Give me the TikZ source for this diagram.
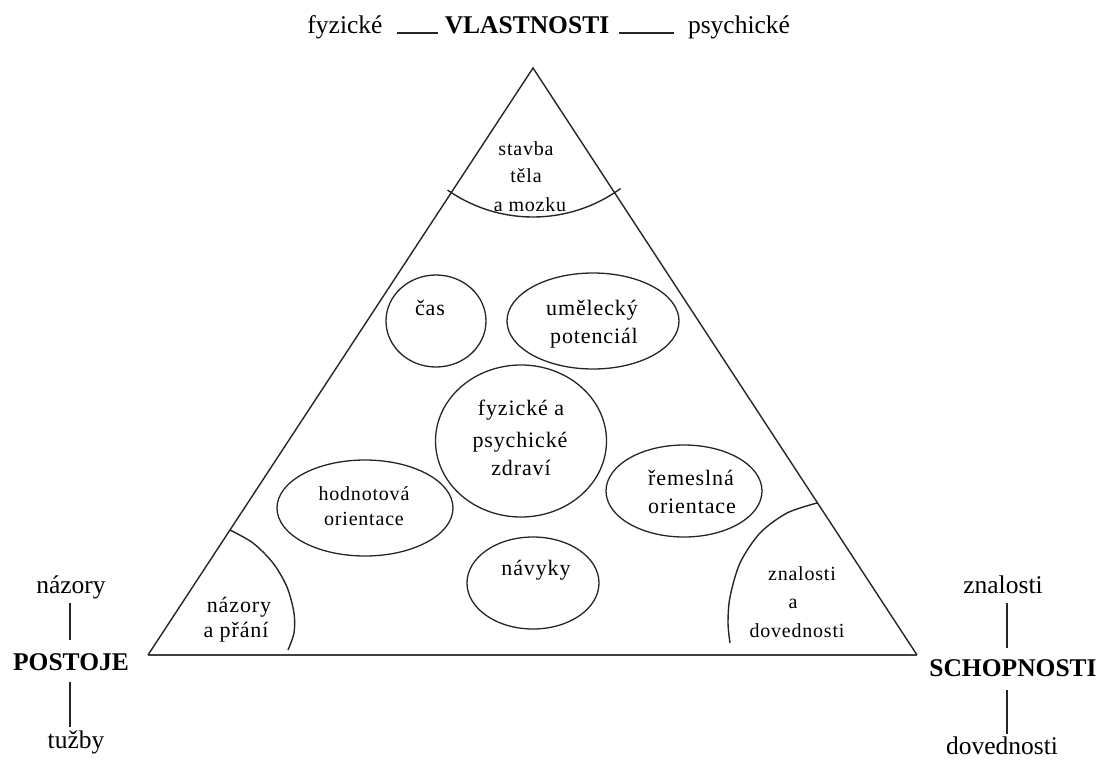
\documentclass[tikz,border=0pt]{standalone}
\usepackage{fontspec}
\setmainfont{Liberation Serif}
\newfontfamily\innerfont[LetterSpace=4]{Liberation Serif}
\usetikzlibrary{shapes.geometric,calc}
\begin{document}
\begin{tikzpicture}[x=1pt,y=-1pt,
  line/.style={line width=1.4pt, black!85},
  oval/.style={draw=black!85, line width=1.3pt, ellipse, inner sep=0pt},
  big/.style={inner sep=0pt, anchor=base, font=\fontsize{25.5}{30}\selectfont},
  bigb/.style={inner sep=0pt, anchor=base, font=\fontsize{25.5}{30}\selectfont\bfseries},
  small/.style={inner sep=0pt, anchor=base, font=\innerfont\fontsize{22}{26}\selectfont},
  tiny/.style={inner sep=0pt, anchor=base, font=\innerfont\fontsize{20}{24}\selectfont},
  ]
\useasboundingbox (0,0) rectangle (1100,760);

% triangle
\coordinate (A) at (533,68);
\coordinate (L) at (148,655);
\coordinate (R) at (917,655);
\draw[line, line join=miter] (L) -- (A) -- (R);
\draw[line width=2pt, black!75] (L) -- (R);

% corner arcs
\draw[line] plot[domain=125:54, samples=60] ({533+149*cos(\x)},{68+149*sin(\x)});
\draw[line] plot[smooth] coordinates {(230,530) (253,543) (273,563) (287,587) (294,613) (294,633) (288,650)};
\draw[line] plot[smooth] coordinates {(817,503) (787,513) (760,533) (740,563) (730,597) (728,623) (730,643)};

% ellipses
\node[oval, minimum width=100pt, minimum height=92pt] (cas) at (436,321) {};
\node[oval, minimum width=172pt, minimum height=96pt] (umel) at (593,321) {};
\node[oval, minimum width=171pt, minimum height=152pt] (zdr) at (521,441) {};
\node[oval, minimum width=176pt, minimum height=96pt] (hodn) at (365,508) {};
\node[oval, minimum width=156pt, minimum height=92pt] (rem) at (684,491) {};
\node[oval, minimum width=132pt, minimum height=92pt] (nav) at (533,583) {};

% inner texts
\node[tiny] (t1) at (526,155) {stavba};
\node[tiny] (t2) at (526,182) {těla};
\node[tiny] (t3) at (530,211) {a mozku};
\node[small] (c1) at (430,315) {čas};
\node[small] (u1) at (592,315) {umělecký};
\node[small] (u2) at (594,343) {potenciál};
\node[small] (z1) at (521,415) {fyzické a};
\node[small] (z2) at (520,447) {psychické};
\node[small] (z3) at (521,475) {zdraví};
\node[tiny] (h1) at (364,500) {hodnotová};
\node[tiny] (h2) at (364,525) {orientace};
\node[small] (r1) at (691,485) {řemeslná};
\node[small] (r2) at (692,513) {orientace};
\node[small] (n1) at (536,575) {návyky};
\node[small] (p1) at (239,612) {názory};
\node[small] (p2) at (236,637) {a přání};
\node[tiny] (k1) at (802,580) {znalosti};
\node[tiny] (k2) at (793,608) {a};
\node[tiny] (k3) at (797,637) {dovednosti};

% top labels
\node[big] (fyz) at (345,34) {fyzické};
\node[bigb] (vl) at (527,34) {VLASTNOSTI};
\node[big] (psy) at (739,34) {psychické};
\draw[line, shorten <=14pt, shorten >=7pt] ([yshift=1pt]fyz.base east) -- ([yshift=1pt]vl.base west);
\draw[line, shorten <=10pt, shorten >=14pt] ([yshift=1pt]vl.base east) -- ([yshift=1pt]psy.base west);

% left labels
\node[big] (naz) at (71,593) {názory};
\node[bigb] (post) at (71,670) {POSTOJE};
\node[big] (tuz) at (76,748) {tužby};
\draw[line] ($(naz.base)+(-1,10)$) -- ($(naz.base |- post.base)+(-1,-30)$);
\draw[line] ($(post.base)+(-1,12)$) -- ($(post.base |- tuz.base)+(-1,-21)$);

% right labels
\node[big] (zn) at (1003,593) {znalosti};
\node[bigb] (sch) at (1013,676) {SCHOPNOSTI};
\node[big] (dov) at (1002,754) {dovednosti};
\draw[line] ($(zn.base)+(4,10)$) -- ($(zn.base |- sch.base)+(4,-28)$);
\draw[line] ($(zn.base |- sch.base)+(4,14)$) -- ($(zn.base |- dov.base)+(4,-20)$);
\end{tikzpicture}
\end{document}
